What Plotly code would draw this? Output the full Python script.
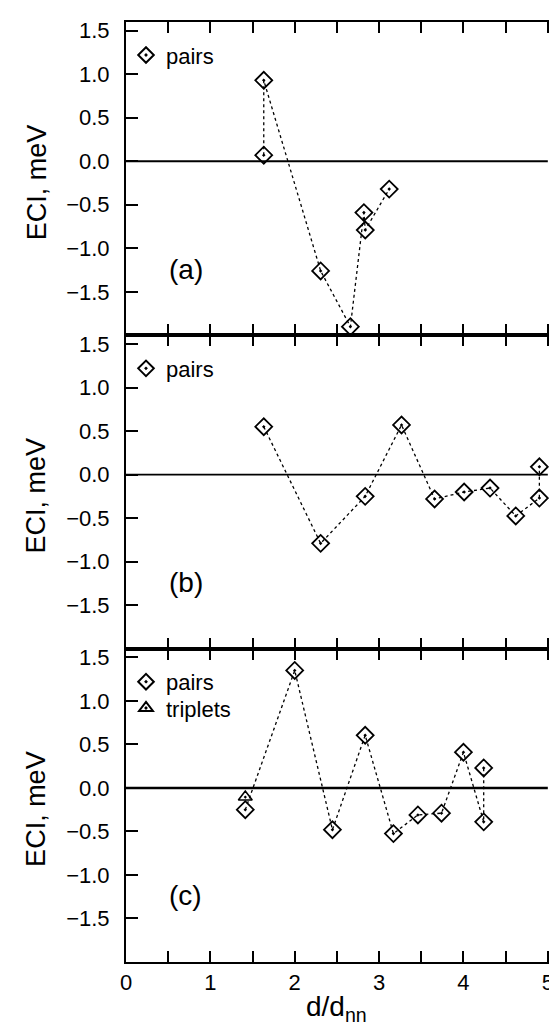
import plotly.graph_objects as go
from plotly.subplots import make_subplots

# ---------------- data ----------------
# Panel (a): pairs
a_x = [1.633, 1.633, 2.307, 2.66, 2.82, 2.836, 3.12]
a_y = [0.07, 0.93, -1.26, -1.90, -0.59, -0.79, -0.32]
# Panel (b): pairs
b_x = [1.633, 2.307, 2.835, 3.266, 3.658, 4.008, 4.315, 4.62, 4.90, 4.90]
b_y = [0.55, -0.79, -0.25, 0.57, -0.28, -0.20, -0.155, -0.475, -0.27, 0.09]
# Panel (c): pairs and triplets
c_x = [1.414, 2.0, 2.447, 2.835, 3.17, 3.46, 3.74, 4.0, 4.24, 4.24]
c_y = [-0.25, 1.35, -0.48, 0.605, -0.525, -0.31, -0.29, 0.41, -0.39, 0.23]
c_tri_x = [1.414]
c_tri_y = [-0.105]

panel_labels = ["(a)", "(b)", "(c)"]
x_tickvals = [0, 1, 2, 3, 4, 5]
x_ticktext = ["0", "1", "2", "3", "4", "5"]
y_tickvals = [-1.5, -1.0, -0.5, 0.0, 0.5, 1.0, 1.5]
y_ticktext = ["\u22121.5", "\u22121.0", "\u22120.5", "0.0", "0.5", "1.0", "1.5"]
zero_x = [0, 5]

FONT = "Liberation Sans, Arial, Helvetica, sans-serif"
BLACK = "#000000"

fig = make_subplots(rows=3, cols=1, shared_xaxes=True, vertical_spacing=0)

line_style = dict(color=BLACK, width=1.3, dash="3px,3px")
dia = dict(symbol="diamond-open-dot", size=13, color=BLACK, line=dict(color=BLACK, width=1.8))
tri = dict(symbol="triangle-up-open-dot", size=12, color=BLACK, line=dict(color=BLACK, width=1.6))

series = [(a_x, a_y), (b_x, b_y), (c_x, c_y)]
for i, (xs, ys) in enumerate(series, start=1):
    fig.add_trace(go.Scatter(x=xs, y=ys, mode="lines+markers", line=line_style,
                             marker=dia, showlegend=False, hoverinfo="skip"),
                  row=i, col=1)
fig.add_trace(go.Scatter(x=c_tri_x, y=c_tri_y, mode="markers", marker=tri,
                         showlegend=False, hoverinfo="skip"), row=3, col=1)

# legend-only entries (symbols without lines, as in the reference)
legend_names = ["legend", "legend2", "legend3"]
for i, lg in enumerate(legend_names, start=1):
    fig.add_trace(go.Scatter(x=[None], y=[None], mode="markers", marker=dia,
                             name="pairs", legend=lg), row=i, col=1)
fig.add_trace(go.Scatter(x=[None], y=[None], mode="markers", marker=tri,
                         name="triplets", legend="legend4"), row=3, col=1)

# zero reference lines
for i in range(1, 4):
    fig.add_trace(go.Scatter(x=zero_x, y=[0, 0], mode="lines",
                             line=dict(color=BLACK, width=2.6 if i == 3 else 1.8),
                             showlegend=False, hoverinfo="skip"), row=i, col=1)

axis_common = dict(showline=True, linecolor=BLACK, linewidth=2, mirror="ticks",
                   ticks="inside", tickcolor=BLACK, tickwidth=2,
                   showgrid=False, zeroline=False, automargin=False)

for i in range(1, 4):
    fig.update_xaxes(range=[0, 5.18], tickvals=x_tickvals, ticktext=x_ticktext,
                     ticklen=11, showticklabels=(i == 3),
                     minor=dict(ticks="inside", dtick=0.5, tick0=0, ticklen=11,
                                tickwidth=2, tickcolor=BLACK, showgrid=False),
                     tickfont=dict(size=22, color=BLACK, family=FONT),
                     ticklabelstandoff=0,
                     **axis_common, row=i, col=1)
    fig.update_yaxes(range=[-2.0, 1.6], tickvals=y_tickvals, ticktext=y_ticktext,
                     ticklen=12, tickfont=dict(size=22, color=BLACK, family=FONT),
                     ticklabelstandoff=10,
                     **axis_common, row=i, col=1)

annotations = []
yrefs = ["y", "y2", "y3"]
for i, lab in enumerate(panel_labels):
    annotations.append(dict(x=0.71, y=-1.24, xref="x" if i == 0 else f"x{i+1}",
                            yref=yrefs[i], text=lab, showarrow=False,
                            font=dict(size=28, color=BLACK, family=FONT)))
    annotations.append(dict(x=-0.205, y=0.49, xref="paper", yref=f"{yrefs[i]} domain",
                            text="ECI, meV", textangle=-90, showarrow=False,
                            xanchor="center", yanchor="middle",
                            font=dict(size=27, color=BLACK, family=FONT)))
annotations.append(dict(x=2.5, y=-0.049, xref="x3", yref="paper",
                        text="d/d<sub>nn</sub>", showarrow=False,
                        xanchor="center", yanchor="middle",
                        font=dict(size=28, color=BLACK, family=FONT)))

leg_common = dict(bgcolor="rgba(0,0,0,0)", borderwidth=0, xanchor="left", yanchor="top",
                  font=dict(size=22, color=BLACK, family=FONT), itemsizing="constant",
                  tracegroupgap=0)
fig.update_layout(
    width=557, height=1028,
    margin=dict(l=118, r=2, t=14, b=74, autoexpand=False),
    paper_bgcolor="white", plot_bgcolor="white",
    font=dict(family=FONT, color=BLACK),
    annotations=annotations,
    legend=dict(x=0.0, y=0.987, **leg_common),
    legend2=dict(x=0.0, y=0.987 - 1/3, **leg_common),
    legend3=dict(x=0.0, y=0.987 - 2/3, **leg_common),
    legend4=dict(x=0.0, y=0.987 - 2/3 - 0.028, **leg_common),
)

fig.write_html("out.html")
